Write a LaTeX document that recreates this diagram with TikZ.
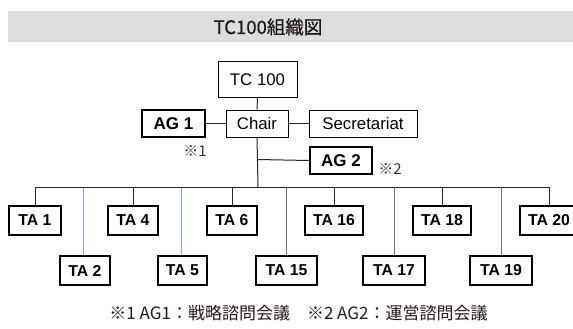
\documentclass[tikz,border=0pt]{standalone}
\usepackage{fontspec}
\setmainfont{Liberation Sans}
\newfontfamily\jpfont{Noto Sans CJK JP}
\newfontfamily\jpfontm{Noto Sans CJK JP}[FakeBold=0.6]
\definecolor{hdrgray}{HTML}{DCDDDD}
\definecolor{txtdark}{HTML}{231815}
\definecolor{lineblue}{HTML}{8FA6E6}
\definecolor{linegray}{HTML}{707070}
\tikzset{
  thinbox/.style={draw=black, line width=1pt, fill=white, inner sep=0pt, font=\fontsize{16.8}{18}\selectfont},
  agbox/.style={draw=black, line width=2pt, fill=white, inner sep=0pt, font=\fontsize{17}{18}\selectfont\bfseries},
  tabox/.style={draw=black, line width=2pt, fill=white, inner sep=0pt, minimum height=29pt, font=\fontsize{15.8}{17}\selectfont\bfseries},
  conn/.style={draw=black!85, line width=1pt},
  connblue/.style={draw=lineblue, line width=0.9pt},
  conngray/.style={draw=linegray, line width=0.9pt},
  refmark/.style={font=\jpfont\fontsize{15}{16}\selectfont, text=black!80, inner sep=0pt},
  note/.style={font=\jpfont\fontsize{17}{19}\selectfont, text=txtdark, inner sep=0pt}
}
\begin{document}
\begin{tikzpicture}[x=1pt,y=-1pt]
\useasboundingbox (0,0) rectangle (573,329);
\clip (0,0) rectangle (573,329);
% header
\fill[hdrgray] (8,11) rectangle (573,42);
\node[font=\jpfontm\fontsize{18.5}{20}\selectfont, text=txtdark, inner sep=0pt] (title) at (268,27) {TC100組織図};
\coordinate (bus) at (258,187);
\coordinate (ag2j) at (258,159.5);
\coordinate (busL) at (35,187);
\coordinate (busR) at (549,187);
% top boxes
\node[thinbox, minimum width=79pt, minimum height=35pt] (tc) at (257.5,79.5) {TC 100};
\node[thinbox, minimum width=62pt, minimum height=27pt] (chair) at (257,123.5) {Chair};
\node[agbox, minimum width=63pt, minimum height=27pt] (ag1) at (173.5,123.5) {AG 1};
\node[thinbox, minimum width=108pt, minimum height=27pt] (sec) at (363,123.5) {Secretariat};
\node[agbox, minimum width=62pt, minimum height=27pt] (ag2) at (341,160.5) {AG 2};
\node[refmark] (n1) at (195,150.5) {※1};
\node[refmark] (n2) at (390,168.5) {※2};
% TA upper row
\node[tabox, minimum width=52pt] (ta1) at (35,220) {TA 1};
\node[tabox, minimum width=50pt] (ta4) at (133,220) {TA 4};
\node[tabox, minimum width=50pt] (ta6) at (232,220) {TA 6};
\node[tabox, minimum width=58pt] (ta16) at (334,220) {TA 16};
\node[tabox, minimum width=58pt] (ta18) at (442,220) {TA 18};
\node[tabox, minimum width=58pt] (ta20) at (549,220) {TA 20};
% TA lower row
\node[tabox, minimum width=50pt] (ta2) at (85,270.5) {TA 2};
\node[tabox, minimum width=49pt] (ta5) at (182.5,270.5) {TA 5};
\node[tabox, minimum width=61pt] (ta15) at (286.5,270.5) {TA 15};
\node[tabox, minimum width=62pt] (ta17) at (394,270.5) {TA 17};
\node[tabox, minimum width=62pt] (ta19) at (501,270.5) {TA 19};
% connectors
\draw[conn] (tc.south) -- (chair.north);
\draw[conn] (ag1.east) -- (chair.west);
\draw[conn] (chair.east) -- (sec.west);
\draw[conn] (chair.south) -- (bus);
\draw[conn] (ag2j) -- (ag2.west);
\draw[conn] (busL) -- (busR);
\draw[conn] (busL) -- (ta1.north);
\draw[conn] (ta4.north |- bus) -- (ta4.north);
\draw[conn] (ta6.north |- bus) -- (ta6.north);
\draw[conn] (ta16.north |- bus) -- (ta16.north);
\draw[conn] (ta18.north |- bus) -- (ta18.north);
\draw[conn] (busR) -- (ta20.north);
\draw[connblue] (83,187.5) coordinate (d2) -- (d2 |- ta2.north);
\draw[connblue] (181,187.5) coordinate (d5) -- (d5 |- ta5.north);
\draw[conngray] (ta15.north |- bus) -- (ta15.north);
\draw[conngray] (ta17.north |- bus) -- (ta17.north);
\draw[conngray] (ta19.north |- bus) -- (ta19.north);
% footnote
\node[note] (foot) at (298.5,313) {※1 AG1：戦略諮問会議　※2 AG2：運営諮問会議};
\end{tikzpicture}
\end{document}
